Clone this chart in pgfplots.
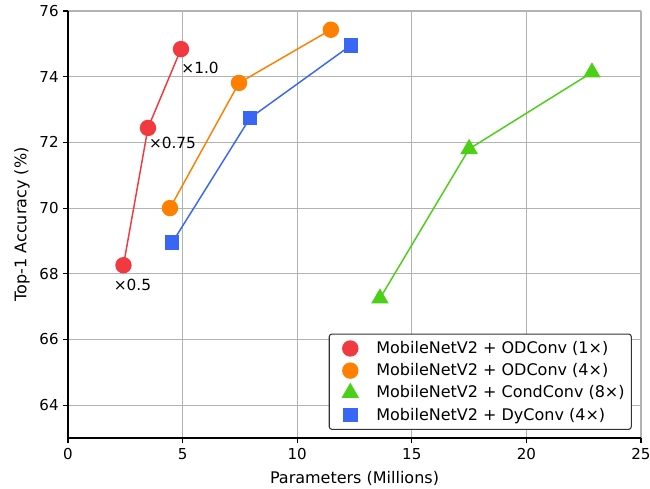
\documentclass[border=0pt]{standalone}
\usepackage{fontspec}
\setmainfont{DejaVu Sans}
\usepackage{pgfplots}
\pgfplotsset{compat=1.18}
\definecolor{cred}{HTML}{F03A3F}
\definecolor{corange}{HTML}{FF8000}
\definecolor{cgreen}{HTML}{4CD017}
\definecolor{cblue}{HTML}{3A66F5}
\begin{document}
\begin{tikzpicture}
\begin{axis}[
  width=429.75pt, height=320.25pt, scale only axis,
  xmin=0, xmax=25, ymin=63, ymax=76,
  xtick={0,5,...,25}, ytick={64,66,...,76},
  axis lines=left, axis line style={-, line width=0.8pt},
  tick align=outside, major tick length=3.5pt,
  tick style={black, line width=0.8pt},
  grid=major, grid style={color=black!30, line width=0.8pt},
  /pgf/number format/assume math mode=true,
  ticklabel style={font=\fontsize{11.3}{13}\selectfont},
  xticklabel style={yshift=-1pt},
  label style={font=\fontsize{12}{14}\selectfont},
  xlabel={Parameters (Millions)},
  ylabel={Top-1 Accuracy (\%)},
  xlabel style={at={(axis description cs:0.5,-0.0937)}, anchor=center},
  ylabel style={at={(axis description cs:-0.0803,0.5)}, anchor=center},
  legend style={at={(0.984,0.019)}, anchor=south east, rounded corners=2pt,
    draw=black!80, line width=0.8pt, font=\fontsize{12}{14}\selectfont,
    row sep=2pt, inner xsep=3pt, inner ysep=3.5pt,
    /tikz/every odd column/.append style={column sep=5pt}},
  legend image code/.code={\path (-12.25pt,0pt) (12pt,0pt); \draw[#1] plot coordinates {(0pt,0pt)};},
  legend cell align=left,
  every axis plot/.append style={line width=1.1pt},
]
\addlegendimage{only marks, mark=*, color=cred, mark size=5.6pt}
\addlegendentry{MobileNetV2 + ODConv (1×)}
\addlegendimage{only marks, mark=*, color=corange, mark size=5.6pt}
\addlegendentry{MobileNetV2 + ODConv (4×)}
\addlegendimage{only marks, mark=triangle*, color=cgreen, mark size=6.5pt}
\addlegendentry{MobileNetV2 + CondConv (8×)}
\addlegendimage{only marks, mark=square*, color=cblue, mark size=5pt}
\addlegendentry{MobileNetV2 + DyConv (4×)}

\addplot[color=cred, mark=*, mark size=5.6pt, forget plot] coordinates {(2.42,68.26) (3.49,72.44) (4.93,74.84)};
\addplot[color=corange, mark=*, mark size=5.6pt, forget plot] coordinates {(4.45,70.0) (7.46,73.81) (11.47,75.43)};
\addplot[color=cgreen, mark=triangle*, mark size=6.5pt, forget plot] coordinates {(13.61,67.25) (17.5,71.8) (22.86,74.13)};
\addplot[color=cblue, mark=square*, mark size=5pt, forget plot] coordinates {(4.54,68.94) (7.94,72.74) (12.35,74.96)};

\node[font=\fontsize{11.5}{13}\selectfont] at (axis cs:2.81,67.66) {×0.5};
\node[font=\fontsize{11.5}{13}\selectfont] at (axis cs:4.56,71.98) {×0.75};
\node[font=\fontsize{11.5}{13}\selectfont] at (axis cs:5.76,74.27) {×1.0};
\end{axis}
\pgfresetboundingbox
\path (current axis.south west) ++(-51pt,-38.25pt) rectangle ++(487.5pt,366.75pt);
\end{tikzpicture}
\end{document}
